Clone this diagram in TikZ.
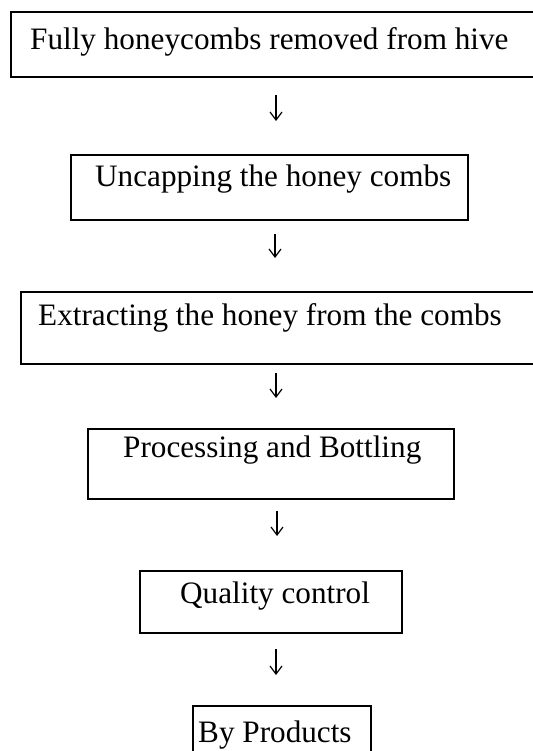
\documentclass[tikz,border=0pt]{standalone}
\usepackage{fontspec}
\setmainfont{Liberation Serif}
\usetikzlibrary{arrows.meta}
\begin{document}
\begin{tikzpicture}[x=1pt,y=-1pt,
  box/.style={draw=black,line width=1.9pt,rectangle,inner sep=0pt,anchor=north west},
  txt/.style={anchor=base west,inner sep=0pt,font=\fontsize{31.2}{34}\selectfont},
  arr/.style={draw=black,line width=1.2pt,-{Straight Barb[length=8pt,width=12pt,line width=1.2pt]}}]
\useasboundingbox (0,0) rectangle (532,751);
\fill[white] (0,0) rectangle (532,751);
\node[box,minimum width=526pt,minimum height=65pt] (b1) at (10,11) {};
\node[box,minimum width=397pt,minimum height=65pt] (b2) at (70,154) {};
\node[box,minimum width=516pt,minimum height=72pt] (b3) at (20,291) {};
\node[box,minimum width=366pt,minimum height=70pt] (b4) at (87,428) {};
\node[box,minimum width=262pt,minimum height=62pt] (b5) at (139,570) {};
\node[box,minimum width=178pt,minimum height=75pt] (b6) at (192,705) {};
\node[txt] (t1) at (30,50) {Fully honeycombs removed from hive};
\node[txt] (t2) at (95,187) {Uncapping the honey combs};
\node[txt] (t3) at (38,325) {Extracting the honey from the combs};
\node[txt] (t4) at (123,457) {Processing and Bottling};
\node[txt] (t5) at (180,603) {Quality control};
\node[txt] (t6) at (198,742) {By Products};
\coordinate (ax1) at (276,0);
\coordinate (ax2) at (275,0);
\coordinate (ax3) at (276,0);
\coordinate (ax4) at (277,0);
\coordinate (ax5) at (276,0);
\draw[arr,shorten <=17pt,shorten >=33pt] (b1.south -| ax1) -- (b2.north -| ax1);
\draw[arr,shorten <=13pt,shorten >=33pt] (b2.south -| ax2) -- (b3.north -| ax2);
\draw[arr,shorten <=8pt,shorten >=30pt] (b3.south -| ax3) -- (b4.north -| ax3);
\draw[arr,shorten <=11pt,shorten >=34pt] (b4.south -| ax4) -- (b5.north -| ax4);
\draw[arr,shorten <=15pt,shorten >=30pt] (b5.south -| ax5) -- (b6.north -| ax5);
\end{tikzpicture}
\end{document}
